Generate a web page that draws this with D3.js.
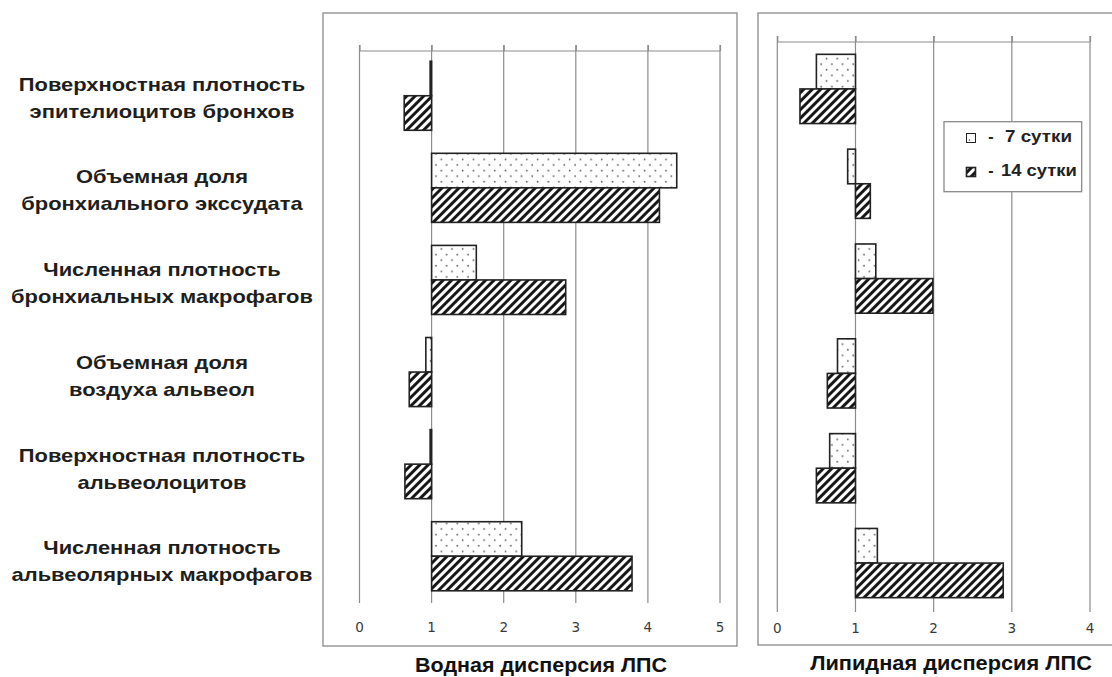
<!DOCTYPE html>
<html>
<head>
<meta charset="utf-8">
<script src="https://cdn.jsdelivr.net/npm/d3@7/dist/d3.min.js"></script>
<style>
  html, body { margin: 0; padding: 0; background: #fff; }
  svg { display: block; }
</style>
</head>
<body>
<svg id="chart" width="1112" height="677"></svg>
<script>
// ---------------- DATA ----------------
const categories = [
  ["Поверхностная плотность", "эпителиоцитов бронхов"],
  ["Объемная доля", "бронхиального экссудата"],
  ["Численная плотность", "бронхиальных макрофагов"],
  ["Объемная доля", "воздуха альвеол"],
  ["Поверхностная плотность", "альвеолоцитов"],
  ["Численная плотность", "альвеолярных макрофагов"]
];
const seriesNames = ["7 сутки", "14 сутки"];
const waterDay7  = [0.98, 4.40, 1.62, 0.92, 0.98, 2.25];
const waterDay14 = [0.62, 4.16, 2.86, 0.69, 0.63, 3.78];
const lipidDay7  = [0.50, 0.90, 1.26, 0.77, 0.67, 1.28];
const lipidDay14 = [0.29, 1.19, 1.99, 0.64, 0.50, 2.89];
const waterTicks = [0, 1, 2, 3, 4, 5];
const lipidTicks = [0, 1, 2, 3, 4];
const baseline = 1;
const panelTitles = ["Водная дисперсия ЛПС", "Липидная дисперсия ЛПС"];

// ---------------- SETUP ----------------
const svg = d3.select("#chart");
const defs = svg.append("defs");

// dotted pattern
const dots = defs.append("pattern")
  .attr("id", "dots").attr("patternUnits", "userSpaceOnUse")
  .attr("width", 10.7).attr("height", 11.2);
dots.append("rect").attr("width", 10.7).attr("height", 11.2).attr("fill", "#fff");
dots.append("circle").attr("cx", 2.6).attr("cy", 2.6).attr("r", 0.85).attr("fill", "#555");
dots.append("circle").attr("cx", 7.95).attr("cy", 8.2).attr("r", 0.85).attr("fill", "#555");

// hatch pattern
const hatch = defs.append("pattern")
  .attr("id", "hatch").attr("patternUnits", "userSpaceOnUse")
  .attr("width", 6).attr("height", 6)
  .attr("patternTransform", "rotate(45)");
hatch.append("rect").attr("width", 6).attr("height", 6).attr("fill", "#fff");
hatch.append("line").attr("x1", 1.5).attr("x2", 1.5).attr("y1", 0).attr("y2", 6)
  .attr("stroke", "#111").attr("stroke-width", 2.9);

const fills = ["url(#dots)", "url(#hatch)"];

const panels = [
  {
    frame: {x: 323, y: 13, w: 414, h: 633},
    xDomain: [0, 5], xRange: [359.5, 720],
    axisY: 51, gridBottom: 603,
    yRange: [52, 600], padIn: 0.25, padOut: 0.1,
    ticks: waterTicks, tickY: 628,
    s7: waterDay7, s14: waterDay14,
    title: panelTitles[0], titleX: 541, titleY: 667, titleW: 252
  },
  {
    frame: {x: 758, y: 13, w: 380, h: 632},
    xDomain: [0, 4], xRange: [777.3, 1090],
    axisY: 42, gridBottom: 612,
    yRange: [42, 610], padIn: 0.27, padOut: 0.13,
    ticks: lipidTicks, tickY: 629,
    s7: lipidDay7, s14: lipidDay14,
    title: panelTitles[1], titleX: 951, titleY: 665, titleW: 282
  }
];

const catIdx = categories.map((d, i) => i);

panels.forEach(p => {
  const g = svg.append("g");
  // frame
  g.append("rect")
    .attr("x", p.frame.x).attr("y", p.frame.y)
    .attr("width", p.frame.w).attr("height", p.frame.h)
    .attr("fill", "none").attr("stroke", "#8a8a8a").attr("stroke-width", 1.3);

  const x = d3.scaleLinear().domain(p.xDomain).range(p.xRange);
  const y = d3.scaleBand().domain(catIdx).range(p.yRange)
    .paddingInner(p.padIn).paddingOuter(p.padOut);
  const ySub = d3.scaleBand().domain([0, 1]).range([0, y.bandwidth()]);

  // grid lines
  g.append("g").selectAll("line").data(p.ticks).join("line")
    .attr("x1", d => x(d)).attr("x2", d => x(d))
    .attr("y1", p.axisY - 6).attr("y2", p.gridBottom)
    .attr("stroke", "#8c8c8c").attr("stroke-width", 1.2);

  // top axis line via d3 axis
  const axis = d3.axisTop(x).tickValues(p.ticks).tickSize(6).tickFormat("");
  const ag = g.append("g").attr("transform", `translate(0,${p.axisY})`).call(axis);
  ag.select(".domain").attr("stroke", "#8c8c8c").attr("stroke-width", 1.2)
    .attr("d", `M${x(p.ticks[0])},0H${x(p.ticks[p.ticks.length - 1])}`);
  ag.selectAll(".tick line").attr("stroke", "#8c8c8c").attr("stroke-width", 1.2);

  // tick labels
  g.append("g").selectAll("text").data(p.ticks).join("text")
    .attr("x", d => x(d)).attr("y", p.tickY)
    .attr("text-anchor", "middle").attr("dominant-baseline", "middle")
    .attr("font-family", "DejaVu Sans, sans-serif").attr("font-size", 13.5)
    .attr("fill", "#3a3a3a")
    .text(d => d);

  // bars
  const rows = [];
  catIdx.forEach(i => {
    rows.push({cat: i, s: 0, v: p.s7[i]});
    rows.push({cat: i, s: 1, v: p.s14[i]});
  });
  g.append("g").selectAll("rect").data(rows).join("rect")
    .attr("x", d => Math.min(x(d.v), x(baseline)))
    .attr("y", d => y(d.cat) + ySub(d.s))
    .attr("width", d => Math.abs(x(d.v) - x(baseline)))
    .attr("height", ySub.bandwidth())
    .attr("fill", d => fills[d.s])
    .attr("stroke", "#222").attr("stroke-width", 1.6);

  // panel title
  const t = g.append("text")
    .attr("font-family", "Liberation Sans, Arial, sans-serif")
    .attr("font-weight", "bold").attr("font-size", 19.5)
    .attr("fill", "#111").attr("text-anchor", "middle")
    .attr("dominant-baseline", "middle")
    .text(p.title);
  const tw = t.node().getComputedTextLength();
  t.attr("transform", `translate(${p.titleX},${p.titleY}) scale(${p.titleW / tw},1)`);
});

// category labels
const yLab = d3.scaleBand().domain(catIdx).range([55, 607]).paddingInner(0.25).paddingOuter(0.1);
const labG = svg.append("g")
  .attr("font-family", "Liberation Sans, Arial, sans-serif")
  .attr("font-weight", "bold").attr("font-size", 19)
  .attr("fill", "#1e1e1e");
const labTexts = [];
catIdx.forEach(i => {
  const cy = yLab(i) + yLab.bandwidth() / 2;
  categories[i].forEach((line, k) => {
    const t = labG.append("text")
      .attr("text-anchor", "middle").attr("dominant-baseline", "middle")
      .attr("data-y", cy + (k === 0 ? -13.5 : 13.5))
      .text(line);
    labTexts.push(t);
  });
});
// horizontal scale so the widest line matches the picture
let refW = 0;
labTexts.forEach(t => { if (t.text() === "бронхиальных макрофагов") refW = t.node().getComputedTextLength(); });
const sx = 302 / refW;
labTexts.forEach(t => t.attr("transform", `translate(162,${t.attr("data-y")}) scale(${sx},1)`));

// legend
const lg = svg.append("g");
lg.append("rect").attr("x", 944).attr("y", 121.7).attr("width", 137.7).attr("height", 70)
  .attr("fill", "#fff").attr("stroke", "#8a8a8a").attr("stroke-width", 1.3);
const legRows = [138, 172];
const legTextX = [1005, 1001];
const legTextW = [67, 76];
seriesNames.forEach((name, i) => {
  lg.append("rect").attr("x", 966.5).attr("y", legRows[i] - 4.5).attr("width", 9).attr("height", 9)
    .attr("fill", i === 0 ? "#fff" : fills[1]).attr("stroke", "#222").attr("stroke-width", i === 0 ? 1 : 1.6);
  if (i === 0) lg.append("circle").attr("cx", 969.5).attr("cy", legRows[i] + 2).attr("r", 0.8).attr("fill", "#444");
  lg.append("text").attr("x", 991).attr("y", legRows[i]).attr("text-anchor", "middle")
    .attr("dominant-baseline", "middle")
    .attr("font-family", "Liberation Sans, Arial, sans-serif").attr("font-weight", "bold")
    .attr("font-size", 16).attr("fill", "#222").text("-");
  const lt = lg.append("text")
    .attr("dominant-baseline", "middle")
    .attr("font-family", "Liberation Sans, Arial, sans-serif").attr("font-weight", "bold")
    .attr("font-size", 16).attr("fill", "#222").text(name);
  const w = lt.node().getComputedTextLength();
  lt.attr("transform", `translate(${legTextX[i]},${legRows[i]}) scale(${legTextW[i] / w},1)`);
});
</script>
</body>
</html>
